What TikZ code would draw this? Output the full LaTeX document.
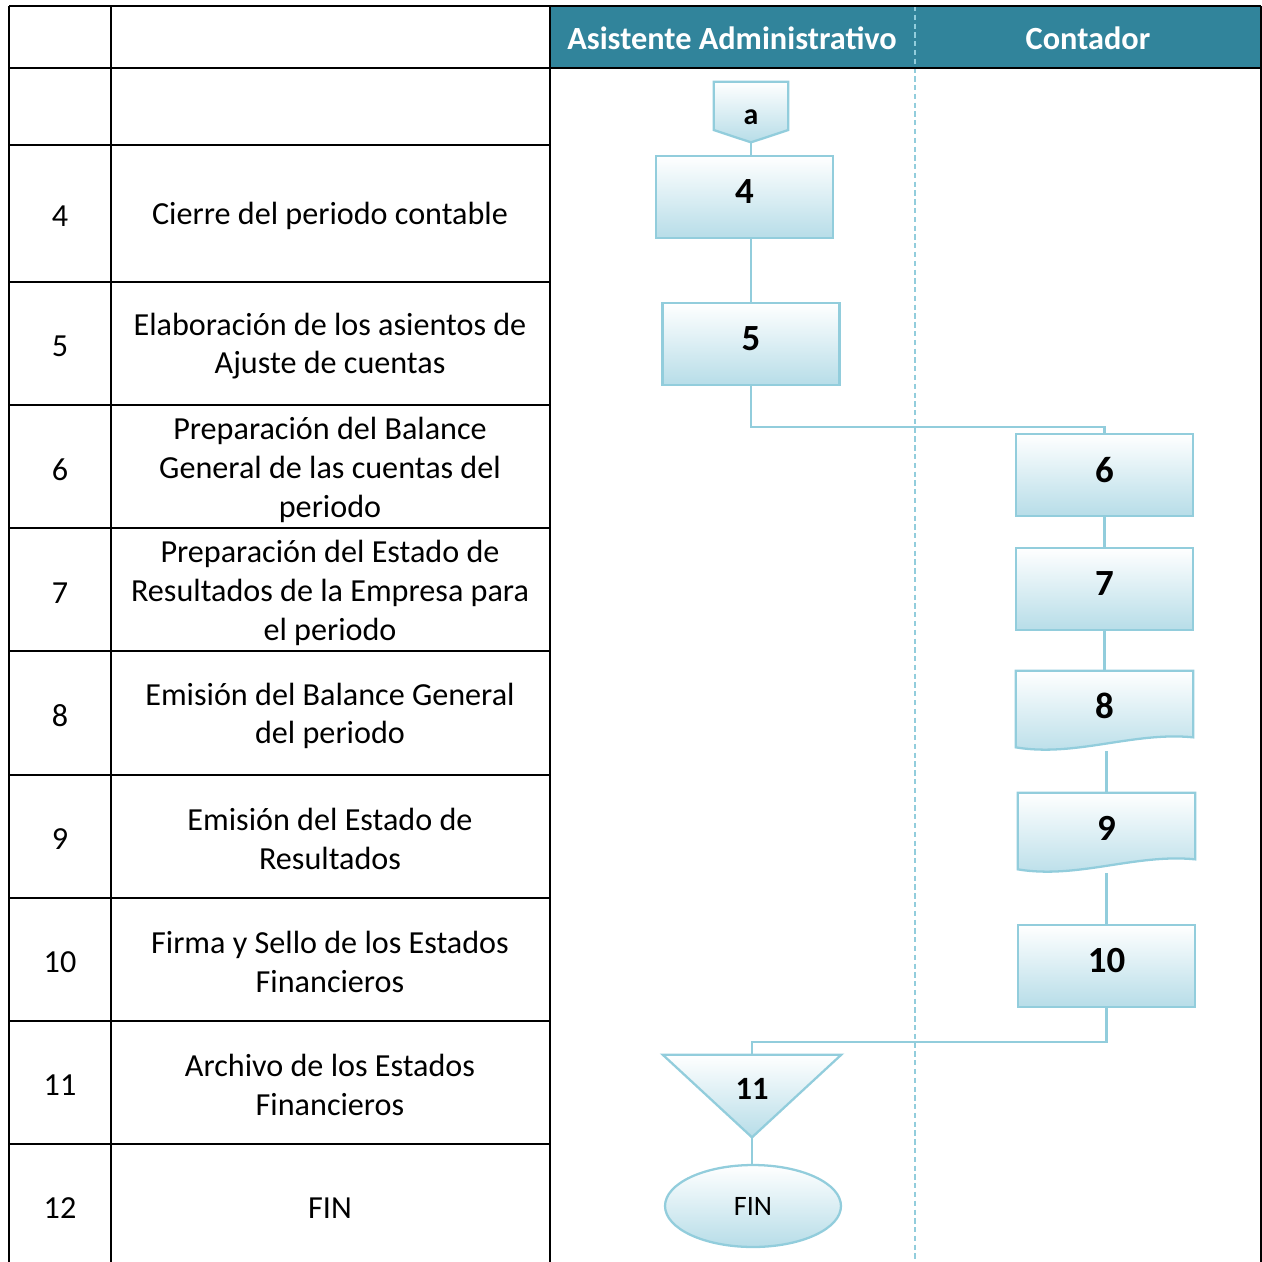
\documentclass[tikz,border=0pt]{standalone}
\usepackage{fontspec}
\setmainfont{Carlito}
\usetikzlibrary{shapes.geometric,backgrounds}
\definecolor{lanehead}{HTML}{31849B}
\definecolor{flowline}{HTML}{92CDDC}
\definecolor{flowfill}{HTML}{B7DDE8}

\begin{document}
\begin{tikzpicture}[
    x=0.02cm, y=-0.02cm,
    grid/.style={draw=black, line width=1.4pt},
    rowtxt/.style={font=\fontsize{18.3}{22.1}\selectfont, align=center},
    headtxt/.style={font=\fontsize{18.4}{20}\selectfont\bfseries, text=white},
    wire/.style={draw=flowline, line width=1.3pt},
    shapefill/.style={wire, top color=white, bottom color=flowfill},
    procbox/.style={shapefill, rectangle, minimum width=3.54cm, minimum height=1.64cm,
      inner sep=0pt, font=\fontsize{21}{24}\selectfont\bfseries, text depth=0.62em},
    docbox/.style={rectangle, minimum width=3.54cm, minimum height=1.4cm,
      inner sep=0pt, font=\fontsize{21}{24}\selectfont\bfseries},
    offpage/.style={rectangle, minimum width=1.48cm, minimum height=1.2cm,
      inner sep=0pt, font=\fontsize{17}{20}\selectfont\bfseries, text height=14pt},
    archive/.style={rectangle, minimum width=3.56cm, minimum height=1.64cm,
      inner sep=0pt, font=\fontsize{18.5}{20}\selectfont\bfseries, text depth=0.85em},
    endnode/.style={shapefill, ellipse, minimum width=3.52cm, minimum height=1.64cm,
      inner sep=0pt, font=\fontsize{16}{18}\selectfont},
  ]

  \useasboundingbox (0,0) rectangle (1262,1262);
  \clip (0,0) rectangle (1262,1262);

  % ---- lane header and lane divider
  \fill[lanehead] (550,6) rectangle (1261,68);
  \draw[flowline, line width=1pt, dash pattern=on 3pt off 2pt] (915,6) -- (915,1262);
  \node[headtxt] (hasist) at (732,38) {Asistente Administrativo};
  \node[headtxt] (hcont) at (1088,38) {Contador};

  % ---- table grid
  \draw[grid] (9,6) -- (1261,6);
  \draw[grid] (9,68) -- (1261,68);
  \foreach \y in {145,282,405,528,651,775,898,1021,1144}
    \draw[grid] (9,\y) -- (550,\y);
  \foreach \x in {9,111,550,1261}
    \draw[grid] (\x,6) -- (\x,1270);

  % ---- step numbers and descriptions
  \foreach \i/\y/\txt in {
      4/216/{Cierre del periodo contable},
      5/346/{Elaboración de los asientos de\\Ajuste de cuentas},
      6/470/{Preparación del Balance\\General de las cuentas del\\periodo},
      7/593/{Preparación del Estado de\\Resultados de la Empresa para\\el periodo},
      8/716/{Emisión del Balance General\\del periodo},
      9/839/{Emisión del Estado de\\Resultados},
      10/962/{Firma y Sello de los Estados\\Financieros},
      11/1085/{Archivo de los Estados\\Financieros},
      12/1208/{FIN}} {
    \node[rowtxt] (num\i) at (60,\y) {\i};
    \node[rowtxt] (desc\i) at (330,\y) {\txt};
  }

  % ---- flow nodes
  \node[offpage] (a) at (751,112) {a};
  \node[procbox] (b4) at (744.5,197) {4};
  \node[procbox] (b5) at (751,344) {5};
  \node[procbox] (b6) at (1104.5,475) {6};
  \node[procbox] (b7) at (1104.5,589) {7};
  \node[docbox] (d8) at (1104.5,706) {8};
  \node[docbox] (d9) at (1106.5,828) {9};
  \node[procbox] (b10) at (1106.5,966) {10};
  \node[archive] (t11) at (752,1096) {11};
  \node[endnode] (fin) at (753,1206) {FIN};

  % ---- outlines drawn behind the labels
  \begin{scope}[on background layer]
    \draw[shapefill] (a.north west) -- (a.north east) -- ([shift={(0,18)}]a.east)
      -- (a.south) -- ([shift={(0,18)}]a.west) -- cycle;
    \foreach \d in {d8,d9}
      \draw[shapefill] (\d.north west) -- (\d.north east) -- ([shift={(0,-4)}]\d.south east)
        .. controls ([shift={(-60,-10)}]\d.south east) and ([shift={(60,16)}]\d.south west)
        .. ([shift={(0,6)}]\d.south west) -- cycle;
    \draw[shapefill] (t11.north west) -- (t11.north east) -- (t11.south) -- cycle;
  \end{scope}

  % ---- connectors
  \draw[wire] (a.south) -- (a.south |- b4.north);
  \draw[wire] (b5.north |- b4.south) -- (b5.north);
  \draw[wire] (b5.south) -- ++(0,41) -| (b6.north);
  \draw[wire] (b6) -- (b7);
  \draw[wire] (b7.south) -- (d8.north);
  \draw[wire] ([shift={(0,10)}]d8.south -| d9.north) -- (d9.north);
  \draw[wire] ([shift={(0,10)}]d9.south) -- (b10.north);
  \draw[wire] (b10.south) -- ++(0,34) -| (t11.north);
  \draw[wire] (t11.south) -- (t11.south |- fin.north);

\end{tikzpicture}
\end{document}
